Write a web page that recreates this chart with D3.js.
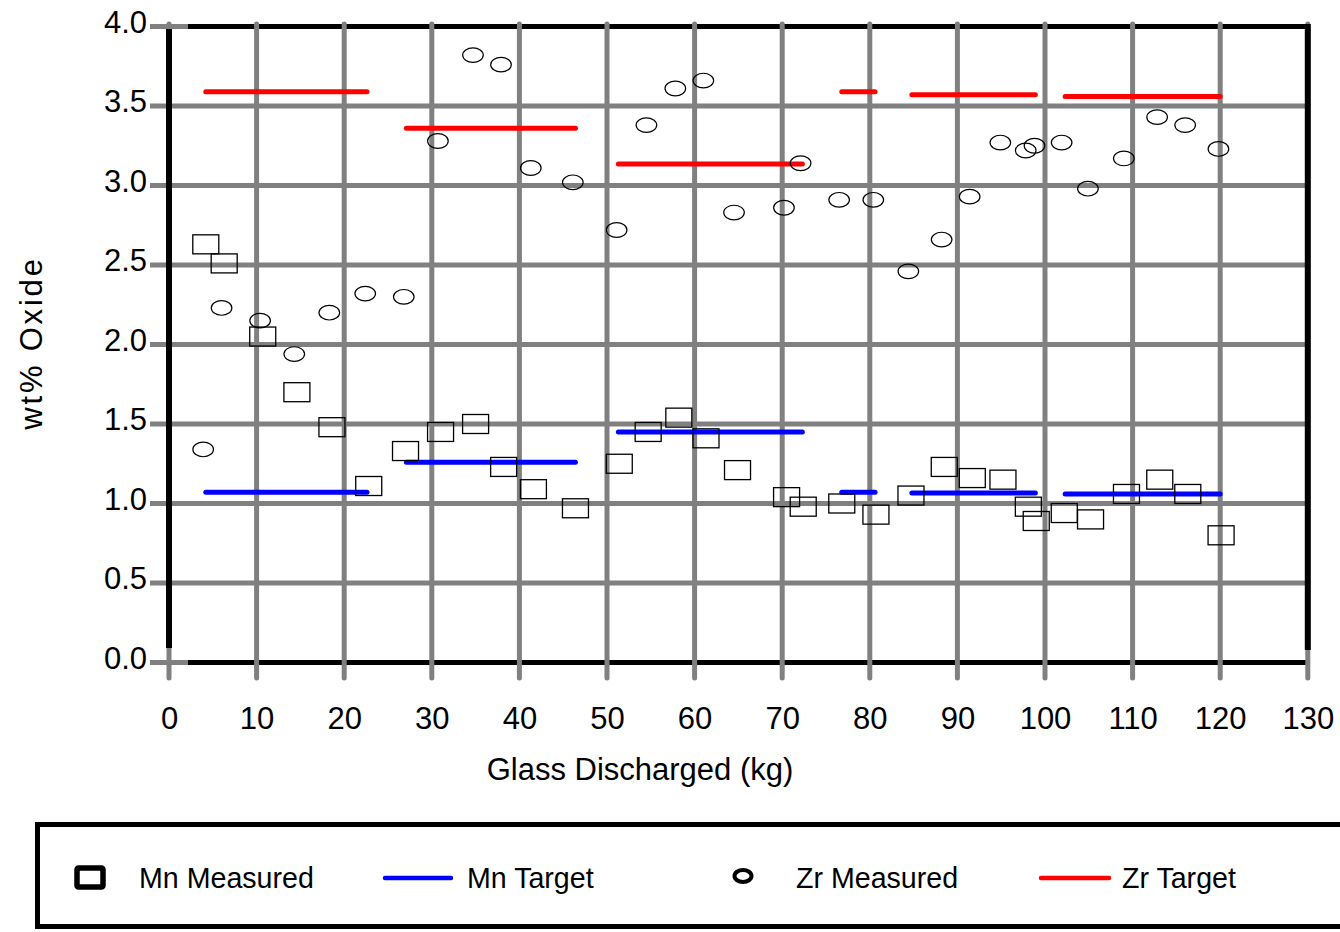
<!doctype html>
<html>
<head>
<meta charset="utf-8">
<title>Mn and Zr oxide vs glass discharged</title>
<script src="https://cdn.jsdelivr.net/npm/d3@7"></script>
<style>
  body { margin: 0; background: #fff; }
  svg { display: block; font-family: "Liberation Sans", Arial, sans-serif; }
  .tick text { font-size: 31px; fill: #000; }
</style>
</head>
<body>
<svg id="chart" width="1340" height="932"></svg>
<script>
// sample points
var mnKg = [4.2, 6.3, 10.7, 14.6, 18.6, 22.8, 27.0, 31.0, 35.0, 38.2, 41.6, 46.4, 51.4, 54.7, 58.2, 61.3, 64.9,
            70.5, 72.4, 76.8, 80.7, 84.7, 88.5, 91.7, 95.2, 98.1, 99.0, 102.2, 105.2, 109.3, 113.1, 116.3, 120.1];
var mnWt = [2.63, 2.51, 2.05, 1.70, 1.48, 1.11, 1.33, 1.45, 1.50, 1.23, 1.09, 0.97, 1.25, 1.45, 1.54, 1.41, 1.21,
            1.04, 0.98, 1.00, 0.93, 1.05, 1.23, 1.16, 1.15, 0.98, 0.89, 0.94, 0.90, 1.06, 1.15, 1.06, 0.80];

var zrKg = [3.9, 6.0, 10.4, 14.3, 18.3, 22.4, 26.8, 30.7, 34.7, 37.9, 41.3, 46.1, 51.1, 54.5, 57.8, 61.0, 64.5,
            70.2, 72.1, 76.5, 80.4, 84.4, 88.2, 91.4, 94.9, 97.8, 98.8, 101.9, 104.9, 109.0, 112.8, 116.0, 119.8];
var zrWt = [1.34, 2.23, 2.15, 1.94, 2.20, 2.32, 2.30, 3.28, 3.82, 3.76, 3.11, 3.02, 2.72, 3.38, 3.61, 3.66, 2.83,
            2.86, 3.14, 2.91, 2.91, 2.46, 2.66, 2.93, 3.27, 3.22, 3.25, 3.27, 2.98, 3.17, 3.43, 3.38, 3.23];

// target segments (one per batch)
var segStart = [4.2, 27.1, 51.3, 76.8, 84.8, 102.3];
var segEnd   = [22.6, 46.4, 72.3, 80.6, 98.9, 120.0];
var mnTarget = [1.07, 1.26, 1.45, 1.07, 1.066, 1.06];
var zrTarget = [3.59, 3.36, 3.135, 3.59, 3.57, 3.56];

var xTicks = d3.range(0, 131, 10);
var yTicks = d3.range(0, 4.01, 0.5);

var legendItems = ["Mn Measured", "Mn Target", "Zr Measured", "Zr Target"];

var svg = d3.select("#chart");
var x = d3.scaleLinear().domain([0, 130]).range([169, 1307.8]);
var y = d3.scaleLinear().domain([0, 4]).range([662.5, 26.5]);

var grey = "#808080";

// horizontal grid
svg.append("g").selectAll("line").data(yTicks).enter().append("line")
  .attr("x1", 150).attr("x2", 1310)
  .attr("y1", function(d) { return y(d); }).attr("y2", function(d) { return y(d); })
  .attr("stroke", grey).attr("stroke-width", 5);

// top and bottom frame
svg.append("line").attr("x1", 188).attr("x2", 1310).attr("y1", y(4)).attr("y2", y(4))
  .attr("stroke", "#000").attr("stroke-width", 5);
svg.append("line").attr("x1", 188).attr("x2", 1308).attr("y1", y(0)).attr("y2", y(0))
  .attr("stroke", "#000").attr("stroke-width", 5);

// vertical grid
svg.append("g").selectAll("line").data(xTicks).enter().append("line")
  .attr("x1", function(d) { return x(d); }).attr("x2", function(d) { return x(d); })
  .attr("y1", 24).attr("y2", 678)
  .attr("stroke", grey).attr("stroke-width", 5).attr("stroke-linecap", "round");

// left and right frame
svg.append("line").attr("x1", x(0)).attr("x2", x(0)).attr("y1", 29).attr("y2", 648)
  .attr("stroke", "#000").attr("stroke-width", 6);
svg.append("line").attr("x1", x(130)).attr("x2", x(130)).attr("y1", 24).attr("y2", 650)
  .attr("stroke", "#000").attr("stroke-width", 6);

// axis labels via d3 axes
svg.append("g").attr("transform", "translate(" + x(0) + ",-4)")
  .call(d3.axisLeft(y).tickValues(yTicks).tickFormat(d3.format(".1f")).tickSize(0).tickPadding(22))
  .call(function(g) { g.select(".domain").remove(); });

svg.append("g").attr("transform", "translate(0," + y(0) + ")")
  .call(d3.axisBottom(x).tickValues(xTicks).tickSize(0).tickPadding(44))
  .call(function(g) { g.select(".domain").remove(); });

svg.append("text").attr("x", 640).attr("y", 780).attr("text-anchor", "middle")
  .style("font-size", "31px").text("Glass Discharged (kg)");

svg.append("text").attr("transform", "translate(42,343) rotate(-90)").attr("text-anchor", "middle")
  .style("font-size", "31px").style("letter-spacing", "2.8px").text("wt% Oxide");

// target lines
function drawTargets(vals, color) {
  svg.append("g").selectAll("line").data(vals).enter().append("line")
    .attr("x1", function(d, i) { return x(segStart[i]); })
    .attr("x2", function(d, i) { return x(segEnd[i]); })
    .attr("y1", function(d) { return y(d); }).attr("y2", function(d) { return y(d); })
    .attr("stroke", color).attr("stroke-width", 5).attr("stroke-linecap", "round");
}
drawTargets(zrTarget, "#ff0000");
drawTargets(mnTarget, "#0000ff");

// measured points
svg.append("g").selectAll("rect").data(mnWt).enter().append("rect")
  .attr("x", function(d, i) { return x(mnKg[i]) - 13; })
  .attr("y", function(d) { return y(d) - 9.5; })
  .attr("width", 26).attr("height", 19)
  .attr("fill", "none").attr("stroke", "#000").attr("stroke-width", 1.3);

svg.append("g").selectAll("ellipse").data(zrWt).enter().append("ellipse")
  .attr("cx", function(d, i) { return x(zrKg[i]); })
  .attr("cy", function(d) { return y(d); })
  .attr("rx", 10.3).attr("ry", 7.3)
  .attr("fill", "none").attr("stroke", "#000").attr("stroke-width", 1.2);

// legend
var lg = svg.append("g");
lg.append("rect").attr("x", 37.5).attr("y", 824.5).attr("width", 1320).attr("height", 102)
  .attr("fill", "none").attr("stroke", "#000").attr("stroke-width", 5);

var ly = 878;
lg.append("rect").attr("x", 77).attr("y", ly - 10).attr("width", 26).attr("height", 19)
  .attr("fill", "none").attr("stroke", "#000").attr("stroke-width", 5.5).attr("rx", 1.5);
lg.append("line").attr("x1", 385).attr("x2", 451).attr("y1", ly).attr("y2", ly)
  .attr("stroke", "#0000ff").attr("stroke-width", 4.5).attr("stroke-linecap", "round");
lg.append("ellipse").attr("cx", 743).attr("cy", ly - 2).attr("rx", 8.5).attr("ry", 6)
  .attr("fill", "none").attr("stroke", "#000").attr("stroke-width", 4);
lg.append("line").attr("x1", 1041).attr("x2", 1109).attr("y1", ly).attr("y2", ly)
  .attr("stroke", "#ff0000").attr("stroke-width", 4.5).attr("stroke-linecap", "round");

var legendX = [139, 467, 796, 1122];
lg.selectAll("text.item").data(legendItems).enter().append("text")
  .attr("class", "item")
  .attr("x", function(d, i) { return legendX[i]; })
  .attr("y", 888)
  .style("font-size", "28.6px")
  .text(function(d) { return d; });
</script>
</body>
</html>
